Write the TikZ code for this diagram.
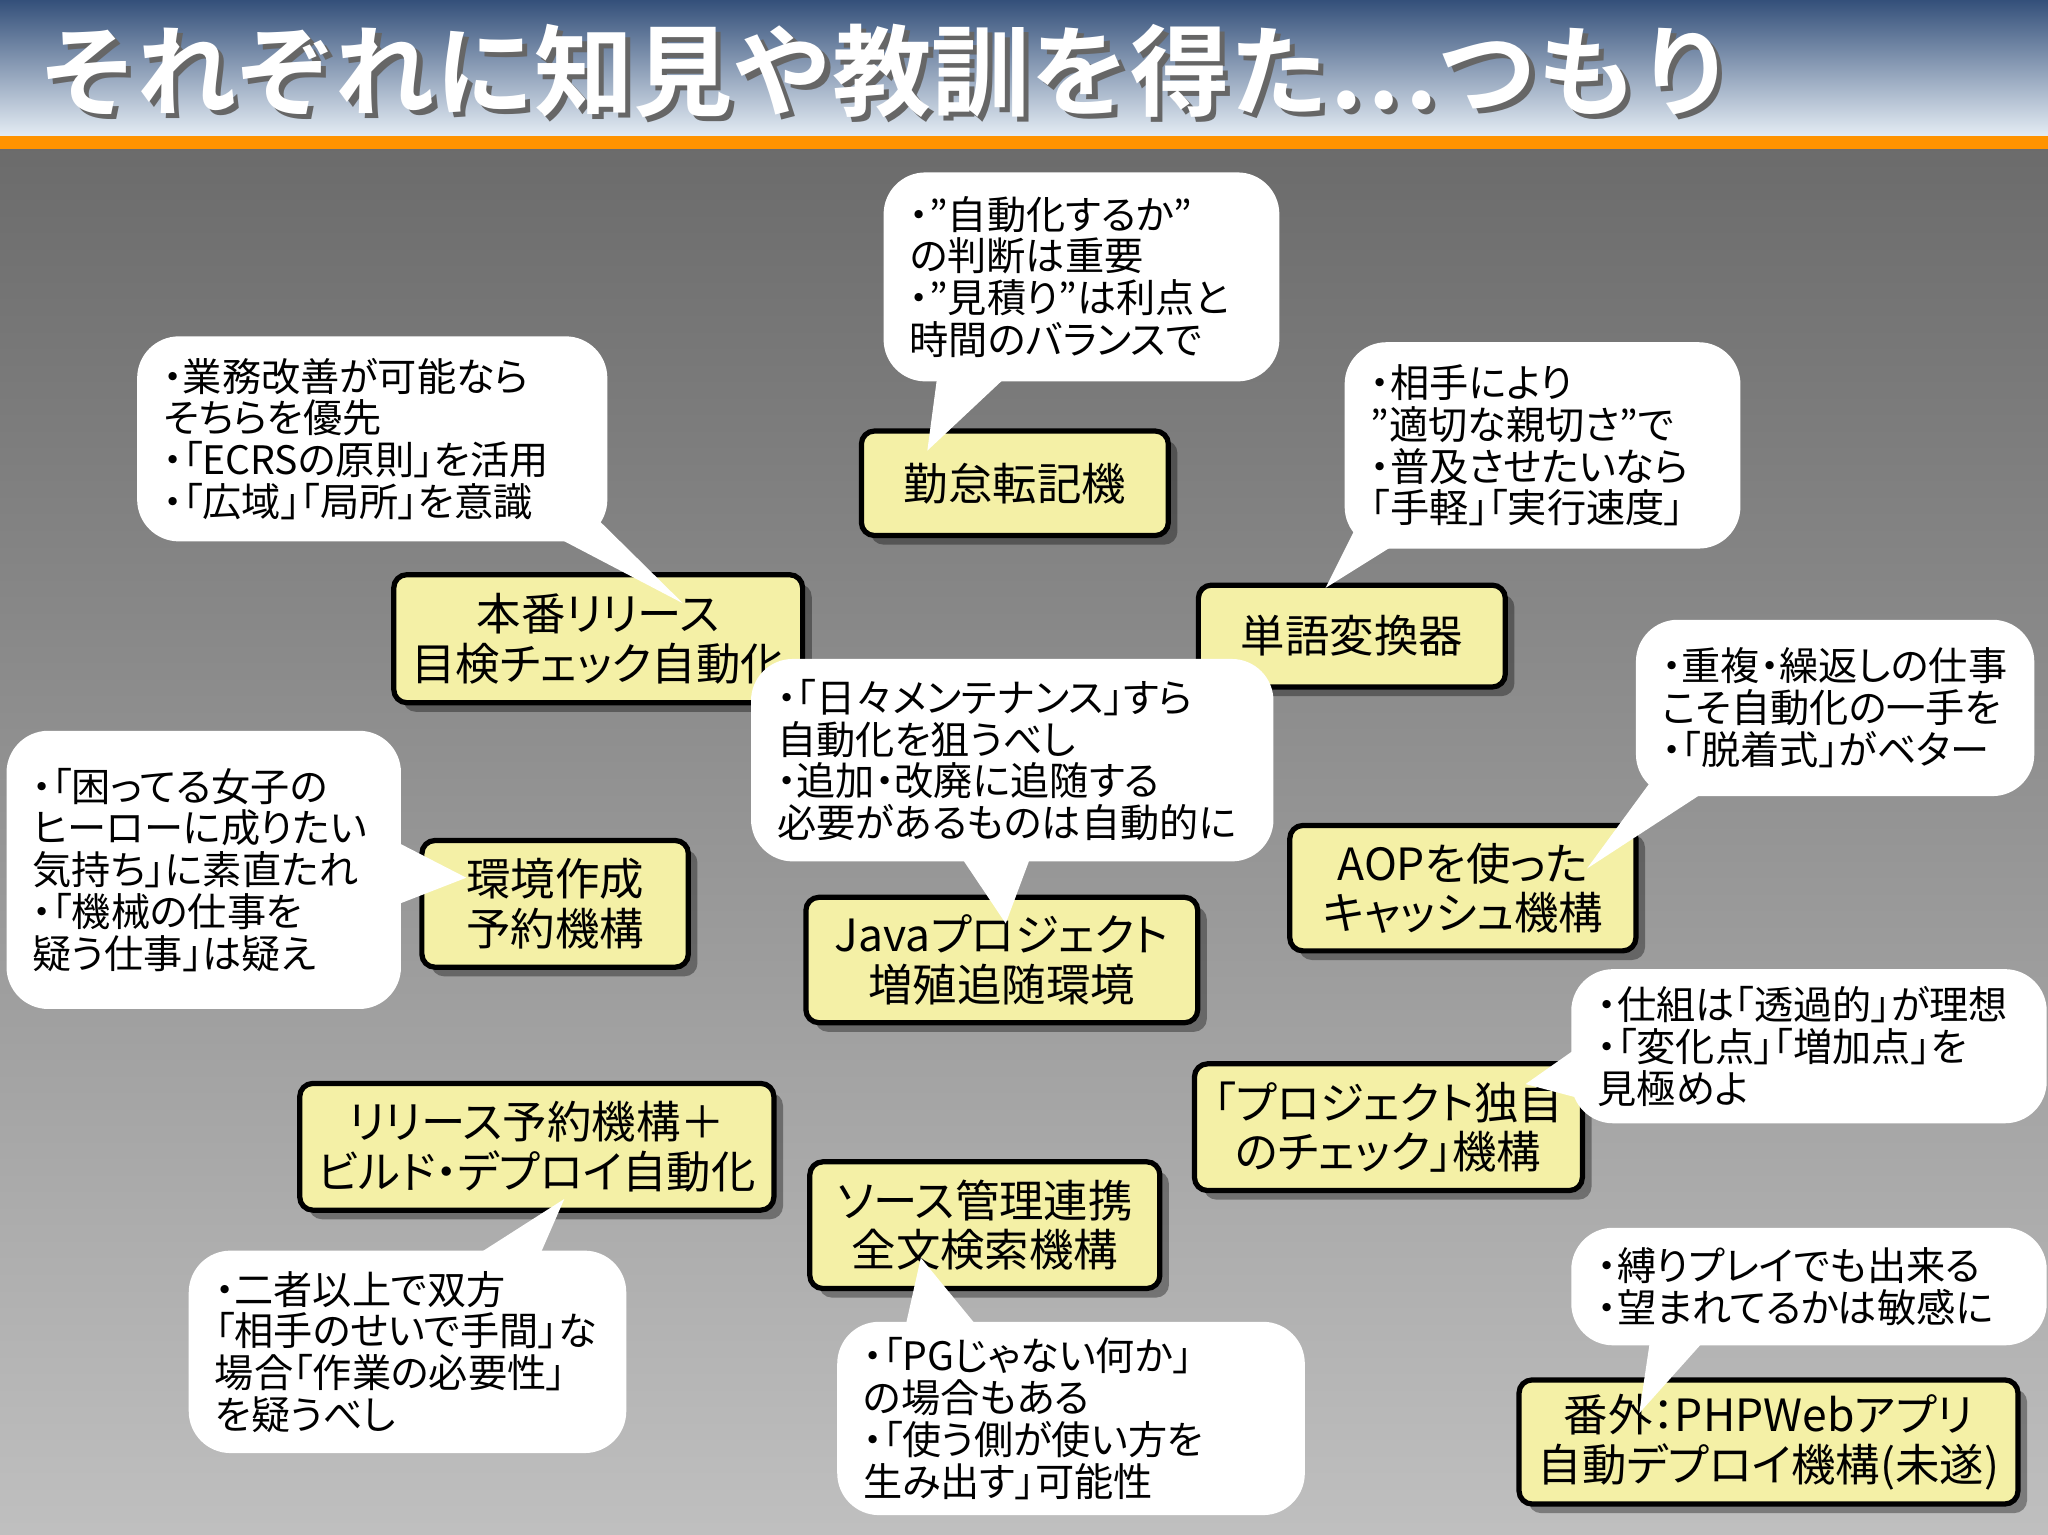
\documentclass[tikz,border=0pt]{standalone}
\usepackage{fontspec}
\setmainfont{Noto Sans CJK JP}[RawFeature=+palt]
\newfontfamily\titlefont{Noto Sans CJK JP Bold}
\usetikzlibrary{shadows,calc}
\definecolor{boxyellow}{HTML}{F4F0A6}
\definecolor{titletop}{HTML}{34507A}
\definecolor{titlebot}{HTML}{E4ECF4}
\tikzset{
 ybox/.style={draw=black, line width=4pt, fill=boxyellow, rounded corners=10pt, align=center,
   font=\fontsize{34}{38}\selectfont, inner sep=0pt,
   drop shadow={shadow xshift=7pt, shadow yshift=-7pt, fill=black, opacity=0.35}},
 cbox/.style={fill=white, rounded corners=32pt, align=left, font=\fontsize{30}{32}\selectfont, inner xsep=20pt, inner ysep=0pt},
}
\newcommand{\yb}[6]{\node[ybox, minimum width=#3pt, minimum height=#4pt] (#1) at (#2) {#5};}
\begin{document}
\begin{tikzpicture}[x=1pt,y=-1pt]
\useasboundingbox (0,0) rectangle (1568,1175);
% background
\shade[top color=black!58, bottom color=black!25] (0,110) rectangle (1568,1175);
\shade[top color=titletop, bottom color=titlebot] (0,0) rectangle (1568,104);
\fill[orange!85!yellow] (0,104) rectangle (1568,114);
\node[anchor=west, text=black!60, font=\titlefont\fontsize{76}{80}\selectfont, inner sep=0] at (33,58) {それぞれに知見や教訓を得た…つもり};
\node[anchor=west, text=white, font=\titlefont\fontsize{76}{80}\selectfont, inner sep=0] (title) at (29,54) {それぞれに知見や教訓を得た…つもり};
% boxes
\yb{b1}{777,370}{235}{80}{勤怠転記機}{}
\yb{b2}{458,489}{313}{98}{本番リリース\\目検チェック自動化}{}
\yb{b3}{1035,487}{235}{78}{単語変換器}{}
\yb{b4}{425,692}{204}{97}{環境作成\\予約機構}{}
\yb{b5}{767,735}{300}{96}{Javaプロジェクト\\増殖追随環境}{}
\yb{b6}{1120,680}{265}{96}{AOPを使った\\キャッシュ機構}{}
\yb{b7}{411,878}{363}{97}{リリース予約機構＋\\ビルド・デプロイ自動化}{}
\yb{b8}{754,938}{268}{97}{ソース管理連携\\全文検索機構}{}
\yb{b9}{1063,863}{297}{97}{「プロジェクト独自\\のチェック」機構}{}
\yb{b10}{1354,1104}{382}{95}{番外：PHPWebアプリ\\自動デプロイ機構(未遂)}{}
% pointers
\coordinate (tA) at (710,345);
\coordinate (tB) at (523,462);
\coordinate (tC) at (1015,450);
\coordinate (tD) at (770,707);
\coordinate (tE) at (1215,665);
\coordinate (tF) at (357,672);
\coordinate (tG) at (1168,830);
\coordinate (tH) at (432,918);
\coordinate (tI) at (705,963);
\coordinate (tJ) at (1255,1082);
\fill[white] (720,270) -- (tA) -- (790,270) -- cycle;
\fill[white] (395,395) -- (tB) -- (455,395) -- cycle;
\fill[white] (1040,400) -- (tC) -- (1095,400) -- cycle;
\fill[white] (725,640) -- (tD) -- (795,640) -- cycle;
\fill[white] (1270,590) -- (tE) -- (1330,590) -- cycle;
\fill[white] (285,635) -- (tF) -- (285,700) -- cycle;
\fill[white] (1225,790) -- (tG) -- (1225,845) -- cycle;
\fill[white] (335,980) -- (tH) -- (405,980) -- cycle;
\fill[white] (690,1030) -- (tI) -- (760,1030) -- cycle;
\fill[white] (1265,1015) -- (tJ) -- (1315,1015) -- cycle;
% callouts
\newcommand{\cb}[6]{\node[cbox, minimum width=#3pt, minimum height=#4pt, text width=#5pt] (#1) at (#2) {#6};}
\cb{cA}{828,212}{303}{160}{263}{・”自動化するか”\\の判断は重要\\・”見積り”は利点と\\時間のバランスで}
\cb{cB}{285,336}{360}{157}{320}{・業務改善が可能なら\\そちらを優先\\・「ECRSの原則」を活用\\・「広域」「局所」を意識}
\cb{cC}{1181,341}{303}{158}{263}{・相手により\\”適切な親切さ”で\\・普及させたいなら\\「手軽」「実行速度」}
\cb{cD}{775,582}{400}{155}{360}{・「日々メンテナンス」すら\\自動化を狙うべし\\・追加・改廃に追随する\\必要があるものは自動的に}
\cb{cE}{1405,542}{305}{135}{265}{・重複・繰返しの仕事\\こそ自動化の一手を\\・「脱着式」がベター}
\cb{cF}{156,666}{292}{213}{262}{・「困ってる女子の\\ヒーローに成りたい\\気持ち」に素直たれ\\・「機械の仕事を\\疑う仕事」は疑え}
\cb{cG}{1385,801}{356}{118}{324}{・仕組は「透過的」が理想\\・「変化点」「増加点」を\\見極めよ}
\cb{cH}{312,1035}{325}{155}{295}{・二者以上で双方\\「相手のせいで手間」な\\場合「作業の必要性」\\を疑うべし}
\cb{cI}{820,1086}{354}{148}{318}{・「PGじゃない何か」\\の場合もある\\・「使う側が使い方を\\生み出す」可能性}
\cb{cJ}{1385,985}{356}{90}{324}{・縛りプレイでも出来る\\・望まれてるかは敏感に}
\end{tikzpicture}
\end{document}
